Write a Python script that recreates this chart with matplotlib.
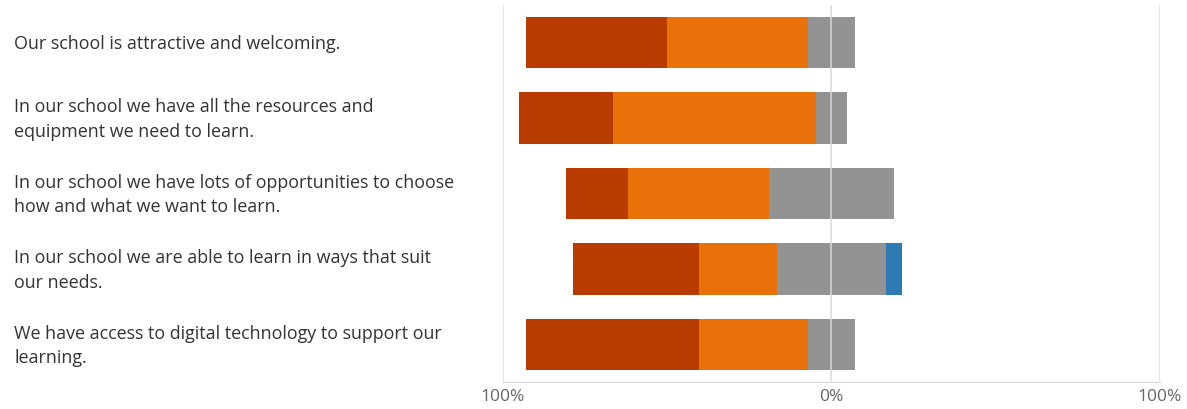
import matplotlib.pyplot as plt
import matplotlib.transforms as mtransforms
import numpy as np

statements = [
    "Our school is attractive and welcoming.",
    "In our school we have all the resources and\nequipment we need to learn.",
    "In our school we have lots of opportunities to choose\nhow and what we want to learn.",
    "In our school we are able to learn in ways that suit\nour needs.",
    "We have access to digital technology to support our\nlearning.",
]

# percentage of responses per statement
strongly_disagree = [42.9, 28.6, 19.0, 38.1, 52.4]
disagree = [42.9, 61.9, 42.9, 23.8, 33.3]
neutral = [14.3, 9.5, 38.1, 33.3, 14.3]
agree = [0.0, 0.0, 0.0, 4.8, 0.0]

colors = ["#B83C00", "#E8710A", "#939393", "#2E7BB4"]
tick_vals = [-100, 0, 100]
tick_labels = ["100%", "0%", "100%"]

plt.rcParams['font.family'] = ['Open Sans', 'DejaVu Sans']

fig = plt.figure(figsize=(11.87, 4.09), dpi=100)
ax = fig.add_axes([503 / 1187, 27 / 409, 657 / 1187, 377 / 409])

sd = np.array(strongly_disagree)
d = np.array(disagree)
n = np.array(neutral)
a = np.array(agree)
y = np.arange(len(statements))
h = 0.68

# neutral is split evenly across zero
left = -(sd + d + n / 2)
ax.barh(y, sd, left=left, height=h, color=colors[0], zorder=2)
ax.barh(y, d, left=left + sd, height=h, color=colors[1], zorder=2)
ax.barh(y, n, left=-n / 2, height=h, color=colors[2], zorder=2)
ax.barh(y, a, left=n / 2, height=h, color=colors[3], zorder=2)

for v in tick_vals:
    ax.axvline(v, color="#d9d9d9", lw=1.2, zorder=3, alpha=0.9)

ax.set_xlim(-100, 100)
ax.set_ylim(len(statements) - 0.5, -0.5)
ax.set_xticks(tick_vals)
ax.set_xticklabels(tick_labels, color="#666666", fontsize=12.5)
ax.tick_params(axis="x", length=0, pad=5)
ax.set_yticks([])
for s in ["top", "right", "left"]:
    ax.spines[s].set_visible(False)
ax.spines["bottom"].set_color("#d9d9d9")

# statement labels: x in figure coords, y on the bar rows
label_tr = mtransforms.blended_transform_factory(fig.transFigure, ax.transData)
for i, label in enumerate(statements):
    ax.text(14 / 1187, y[i] + 0.02, label, transform=label_tr,
            fontsize=12.9, color="#333333", va="center", ha="left",
            linespacing=1.45)

fig.savefig("out.png", dpi=100)
